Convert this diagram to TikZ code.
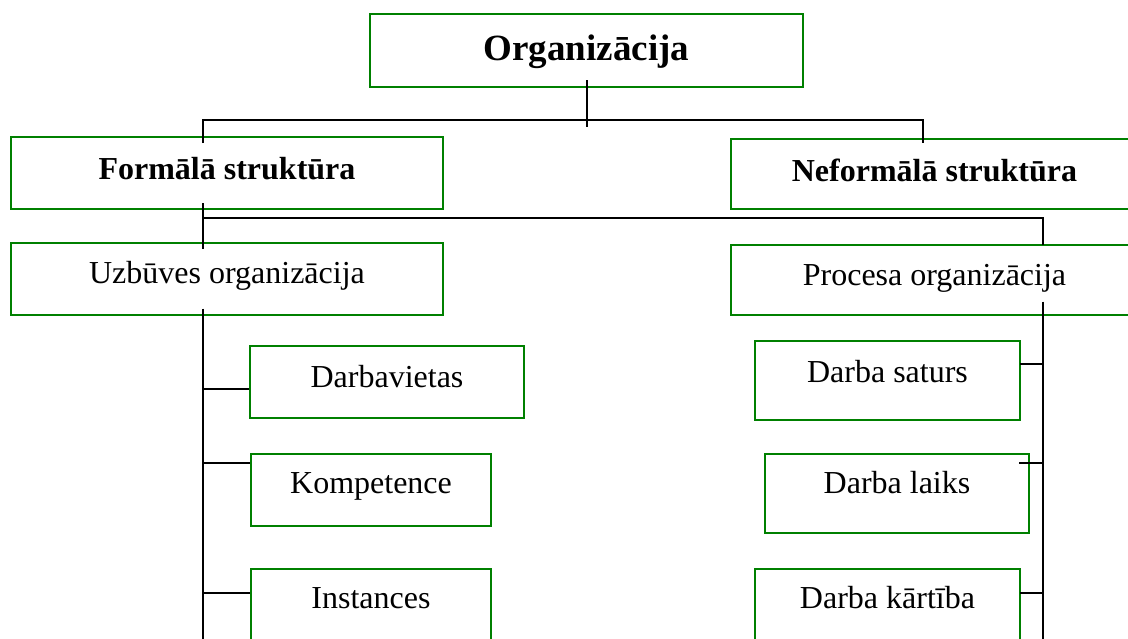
\documentclass[tikz,border=0pt]{standalone}
\usepackage{fontspec}
\setmainfont{Liberation Serif}
\usetikzlibrary{calc}
\definecolor{boxgreen}{RGB}{0,128,0}
\tikzset{
  box/.style={draw=boxgreen, line width=2pt, inner sep=0pt, text depth=0pt,
    font=\fontsize{32}{38}\selectfont},
  conn/.style={draw=black, line width=2pt},
}
\begin{document}
\begin{tikzpicture}[x=1pt,y=-1pt]
\useasboundingbox (0,0) rectangle (1128,638);
% boxes
\node[box, minimum width=433pt, minimum height=73pt, text height=20pt,
      font=\fontsize{37}{44}\selectfont\bfseries] (org) at (586.5,50.5) {Organizācija};
\node[box, minimum width=432pt, minimum height=72pt, text height=12.5pt, font=\fontsize{32}{38}\selectfont\bfseries]
      (formal) at (227,173) {Formālā struktūra};
\node[box, minimum width=407pt, minimum height=70pt, text height=14.6pt, font=\fontsize{32}{38}\selectfont\bfseries]
      (neformal) at (934.5,174) {Neformālā struktūra};
\node[box, minimum width=432pt, minimum height=72pt, text height=9.5pt] (uzb) at (227,278.5) {Uzbūves organizācija};
\node[box, minimum width=407pt, minimum height=70pt, text height=12.5pt] (proc) at (934.5,279.5) {Procesa organizācija};
\node[box, minimum width=274pt, minimum height=72pt, text height=11pt] (darbv) at (387,382) {Darbavietas};
\node[box, minimum width=240pt, minimum height=72pt, text height=8.6pt] (komp) at (371,489.5) {Kompetence};
\node[box, minimum width=240pt, minimum height=74pt, text height=4pt] (inst) at (371,606) {Instances};
\node[box, minimum width=265pt, minimum height=79pt, text height=3.2pt] (sat) at (887.5,380.5) {Darba saturs};
\node[box, minimum width=264pt, minimum height=79pt, text height=0.6pt] (laiks) at (897,493.5) {Darba laiks};
\node[box, minimum width=265pt, minimum height=79pt, text height=0.5pt] (kart) at (887.5,608.5) {Darba kārtība};
% junction coordinates
\coordinate (orgend) at (587,127);
\coordinate (b1) at (203,120);
\coordinate (b2) at (923,120);
\coordinate (c1) at (203,218);
\coordinate (c2) at (1043,218);
\coordinate (lbot) at (203,640);
\coordinate (rbot) at (1043,640);
% connectors
\draw[conn] ([xshift=0.5pt,yshift=8pt]org.south) -- (orgend);
\draw[conn] ([xshift=-24pt,yshift=-7pt]formal.north) -- (b1) -- (b2) -- ([xshift=-11.5pt,yshift=-5pt]neformal.north);
\draw[conn] ([xshift=-24pt,yshift=7pt]formal.south) -- ([xshift=-24pt,yshift=-7pt]uzb.north);
\draw[conn] (c1) -- (c2) -- ([xshift=108.5pt,yshift=-1pt]proc.north);
\draw[conn] ([xshift=-24pt,yshift=7pt]uzb.south) -- (lbot);
\draw[conn] ([xshift=108.5pt,yshift=14pt]proc.south) -- (rbot);
\draw[conn] (darbv.west |- 0,389) -- (203,389);
\draw[conn] (komp.west |- 0,463) -- (203,463);
\draw[conn] (inst.west |- 0,593) -- (203,593);
\draw[conn] ([xshift=-1pt]sat.east |- 0,364) -- (1043,364);
\draw[conn] (1019,463) -- (1043,463);
\draw[conn] ([xshift=-1pt]kart.east |- 0,593) -- (1043,593);
\end{tikzpicture}
\end{document}
